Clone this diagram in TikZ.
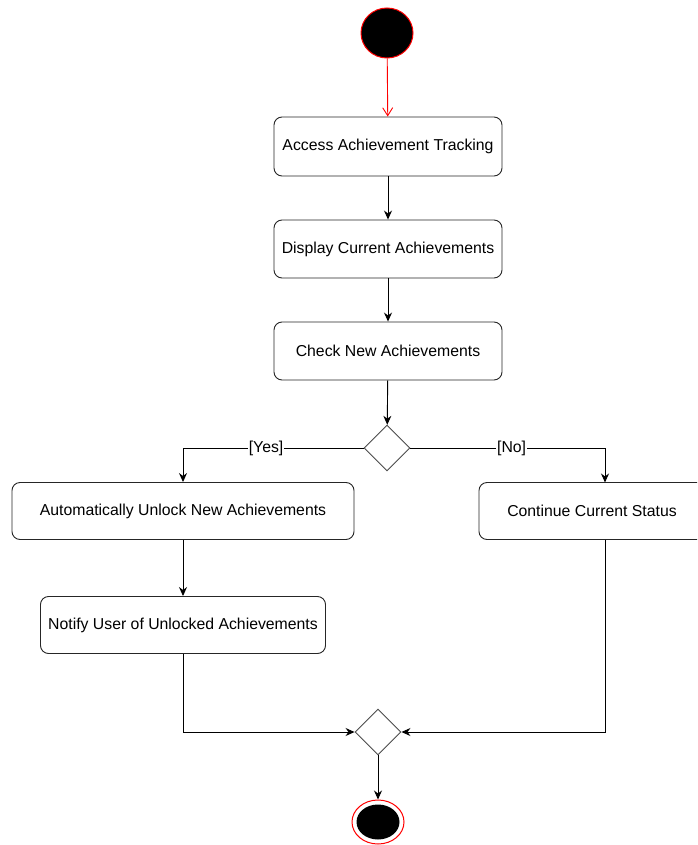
\documentclass[tikz,border=0pt]{standalone}
\usepackage{fontspec}
\setmainfont{Liberation Sans}
\usetikzlibrary{arrows.meta,shapes.geometric,calc}
\definecolor{startred}{HTML}{FF0000}
\tikzset{
  action/.style={draw=black!85, line width=0.9pt, rounded corners=8pt, fill=white,
    inner sep=0pt, font=\fontsize{15.8}{18}\selectfont},
  choice/.style={draw=black!70, line width=0.9pt, diamond, aspect=1, fill=white,
    inner sep=0pt, minimum width=46pt, minimum height=46pt},
  flow/.style={draw=black, line width=0.9pt, -{Stealth[length=9pt,width=8pt]}},
  guard/.style={fill=white, inner sep=1pt, font=\fontsize{15.8}{18}\selectfont},
}
\begin{document}
\begin{tikzpicture}[x=1pt,y=-1pt]
\useasboundingbox (0,0) rectangle (697,845);
\clip (0,0) rectangle (697,845);

% initial state
\node[ellipse, draw=startred, line width=1pt, fill=black,
  minimum width=52pt, minimum height=50pt, inner sep=0pt] (start) at (387,33) {};

% actions
\node[action, minimum width=228pt, minimum height=59pt] (access) at (388,146.5) {Access Achievement Tracking};
\node[action, minimum width=228pt, minimum height=58pt] (display) at (388,249) {Display Current Achievements};
\node[action, minimum width=228pt, minimum height=58pt] (check) at (388,351) {Check New Achievements};
\node[choice] (dec) at (387,448) {};
\node[action, minimum width=342pt, minimum height=57pt] (unlock) at (183,511) {Automatically Unlock New Achievements};
\node[action, minimum width=226pt, minimum height=57pt] (cont) at (592,511) {Continue Current Status};
\node[action, minimum width=285pt, minimum height=57pt] (notify) at (183,625) {Notify User of Unlocked Achievements};
\node[choice] (merge) at (378,732) {};

% final state
\node[ellipse, draw=startred, line width=1pt, fill=white,
  minimum width=52pt, minimum height=44pt, inner sep=0pt] (final) at (378,822) {};
\node[ellipse, fill=black, minimum width=43pt, minimum height=35pt, inner sep=0pt] (finaldot) at (final.center) {};

% attachment points on the status box
\coordinate (contin) at (605,482.5);
\coordinate (contout) at (605,539.5);

% control flow
\draw[draw=startred, line width=0.9pt, -{Straight Barb[length=8pt,width=10pt]}] (start) -- (access);
\draw[flow] (access) -- (display);
\draw[flow] (display) -- (check);
\draw[flow] (check) -- (dec);
\draw[flow] (dec.west) -| node[guard, pos=0.27] {[Yes]} (unlock.north);
\draw[flow] (dec.east) -| node[guard, pos=0.26] {[No]} (contin);
\draw[flow] (unlock) -- (notify);
\draw[flow] (notify.south) |- (merge.west);
\draw[flow] (contout) |- (merge.east);
\draw[flow] (merge) -- (final);
\end{tikzpicture}
\end{document}
